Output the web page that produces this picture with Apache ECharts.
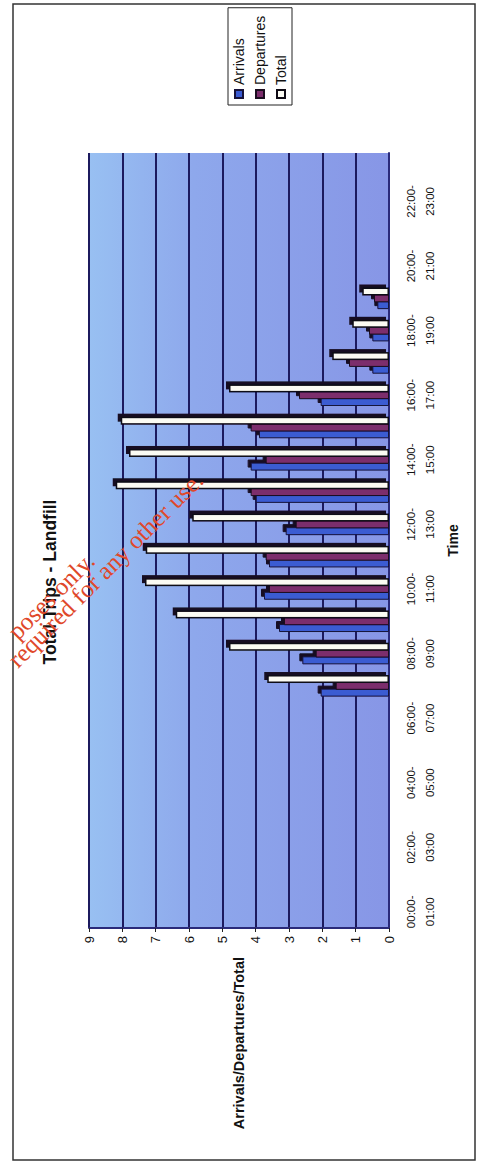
<!DOCTYPE html>
<html><head><meta charset="utf-8">
<script src="https://cdn.jsdelivr.net/npm/echarts@6/dist/echarts.min.js"></script>
<style>
html,body{margin:0;padding:0;background:#fff;overflow:hidden;width:482px;height:1165px;}
#wrap{position:absolute;left:0;top:0;width:482px;height:1165px;overflow:hidden;}
#chart{position:absolute;left:0;top:0;width:1165px;height:482px;transform-origin:0 0;transform:translate(0,1165px) rotate(-90deg);}
</style></head><body>
<div id="wrap"><div id="chart"></div></div>
<script>
const categories = [
  '00:00-01:00','01:00-02:00','02:00-03:00','03:00-04:00','04:00-05:00','05:00-06:00',
  '06:00-07:00','07:00-08:00','08:00-09:00','09:00-10:00','10:00-11:00','11:00-12:00',
  '12:00-13:00','13:00-14:00','14:00-15:00','15:00-16:00','16:00-17:00','17:00-18:00',
  '18:00-19:00','19:00-20:00','20:00-21:00','21:00-22:00','22:00-23:00','23:00-24:00'
];
const arrivals   = [null,null,null,null,null,null,null,2.05,2.6,3.3,3.75,3.6,3.1,4.0,4.15,3.9,2.05,0.5,0.5,0.35,null,null,null,null];
const departures = [null,null,null,null,null,null,null,1.6,2.2,3.15,3.6,3.7,2.8,4.15,3.7,4.15,2.7,1.2,0.6,0.45,null,null,null,null];
const totals     = [null,null,null,null,null,null,null,3.65,4.8,6.4,7.32,7.3,5.9,8.2,7.8,8.05,4.8,1.7,1.1,0.8,null,null,null,null];
const valueMin = 0, valueMax = 9, valueStep = 1;
const titleText = 'Total Trips - Landfill';
const xName = 'Time';
const yName = 'Arrivals/Departures/Total';
const seriesNames = ['Arrivals','Departures','Total'];
const watermark1 = 'poses only.';
const watermark2 = 'required for any other use.';

const FONT = '"Liberation Sans", Arial, sans-serif';
const chart = echarts.init(document.getElementById('chart'), null, {renderer:'svg', width:1165, height:482});
const shadow = {shadowColor:'#140c24', shadowBlur:0, shadowOffsetX:3, shadowOffsetY:-3};
chart.setOption({
  animation:false,
  backgroundColor:'#ffffff',
  title:{text:titleText, left:578, textAlign:'center', top:36,
    textStyle:{fontFamily:FONT, fontSize:17.5, fontWeight:'bold', color:'#111'}},
  legend:{data:seriesNames, orient:'vertical', left:1060, top:228,
    itemWidth:8, itemHeight:8, itemGap:7, padding:[4,8,4,6],
    borderColor:'#222', borderWidth:1, icon:'rect',
    textStyle:{fontFamily:FONT, fontSize:14, color:'#111'}},
  grid:{left:237, right:153, top:89, bottom:93, show:true, borderWidth:0,
    backgroundColor:new echarts.graphic.LinearGradient(0,0,0,1,[
      {offset:0,color:'#98c0f2'},{offset:0.35,color:'#8ea8ec'},{offset:1,color:'#8796e6'}])},
  xAxis:{type:'category', data:categories,
    axisLine:{lineStyle:{color:'#2a2a7a', width:2}},
    axisTick:{interval:0, length:5, lineStyle:{color:'#222'}},
    axisLabel:{interval:1, margin:12, lineHeight:19, fontFamily:FONT, fontSize:11.5, color:'#111',
      formatter:v=>v.replace('-','-\n')},
    name:xName, nameLocation:'middle', nameGap:57,
    nameTextStyle:{fontFamily:FONT, fontSize:14, fontWeight:'bold', color:'#111'}},
  yAxis:{type:'value', min:valueMin, max:valueMax, interval:valueStep,
    axisLine:{show:true, lineStyle:{color:'#2a2a7a', width:2}},
    axisTick:{show:true, length:4, lineStyle:{color:'#222'}},
    axisLabel:{margin:8, fontFamily:FONT, fontSize:13, color:'#111'},
    splitLine:{lineStyle:{color:'#1c1a5e', width:2}},
    name:yName, nameLocation:'middle', nameRotate:0, nameGap:29,
    nameTextStyle:{fontFamily:FONT, fontSize:14.5, fontWeight:'bold', color:'#111'}},
  series:[
    {name:seriesNames[0], type:'bar', data:arrivals, barWidth:8, barGap:'-15%',
      itemStyle:Object.assign({color:'#3a5bd2', borderColor:'#17123a', borderWidth:1}, shadow)},
    {name:seriesNames[1], type:'bar', data:departures, barWidth:8, barGap:'-15%',
      itemStyle:Object.assign({color:'#7b2d6c', borderColor:'#1a0c1e', borderWidth:1}, shadow)},
    {name:seriesNames[2], type:'bar', data:totals, barWidth:8, barGap:'-15%',
      itemStyle:Object.assign({color:'#fbfbf3', borderColor:'#0e0a14', borderWidth:1.5}, shadow)}
  ],
  graphic:[
    {type:'rect', shape:{x:5, y:13, width:1156, height:462}, z:-1,
      style:{fill:'none', stroke:'#333', lineWidth:1.5}},
    {type:'text', x:530, y:12, rotation:-Math.PI/4, z:100,
      style:{text:watermark1, fill:'#e0482a', font:'25px "Liberation Serif", serif', align:'left', verticalAlign:'middle'}},
    {type:'text', x:502, y:12, rotation:-Math.PI/4, z:100,
      style:{text:watermark2, fill:'#e0482a', font:'25px "Liberation Serif", serif', align:'left', verticalAlign:'middle'}}
  ]
});
</script>
</body></html>
